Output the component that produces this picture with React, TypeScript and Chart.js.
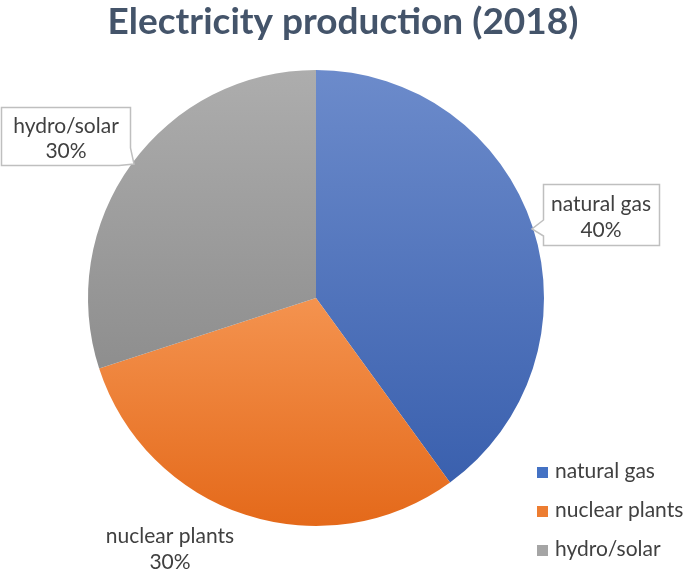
import React, { useEffect, useRef } from "react";
import { Chart, registerables } from "chart.js";

Chart.register(...registerables);

const TITLE = "Electricity production (2018)";
const categories = ["natural gas", "nuclear plants", "hydro/solar"];
const shares = [40, 30, 30];
const percentLabels = ["40%", "30%", "30%"];
const legendColors = ["#4472C4", "#ED7D31", "#A5A5A5"];
const gradientTop = ["#6C8BCB", "#F4934F", "#ADADAD"];
const gradientBottom = ["#3A60AE", "#E4691A", "#8E8E8E"];

const FONT = "Lato, 'Open Sans', sans-serif";
const TEXT = "#404040";

function sliceExtent(chart: any, index: number) {
  const ca = chart.chartArea;
  const cx = (ca.left + ca.right) / 2;
  const cy = (ca.top + ca.bottom) / 2;
  const r = Math.min(ca.right - ca.left, ca.bottom - ca.top) / 2;
  const total = shares.reduce((a, b) => a + b, 0);
  let start = -Math.PI / 2;
  for (let i = 0; i < index; i++) start += (shares[i] / total) * Math.PI * 2;
  const end = start + (shares[index] / total) * Math.PI * 2;
  let minY = cy;
  let maxY = cy;
  const steps = 90;
  for (let s = 0; s <= steps; s++) {
    const a = start + ((end - start) * s) / steps;
    const y = cy + r * Math.sin(a);
    minY = Math.min(minY, y);
    maxY = Math.max(maxY, y);
  }
  void cx;
  return { minY, maxY };
}

const overlayPlugin = {
  id: "overlay",
  afterDraw(chart: any) {
    const ctx = chart.ctx;
    ctx.save();
    // Title
    ctx.fillStyle = "#44546A";
    ctx.font = `bold 37px ${FONT}`;
    ctx.textAlign = "center";
    ctx.textBaseline = "alphabetic";
    ctx.fillText(TITLE, 343, 34);

    // Callouts
    const drawCallout = (pts: number[][]) => {
      ctx.beginPath();
      ctx.moveTo(pts[0][0], pts[0][1]);
      for (let i = 1; i < pts.length; i++) ctx.lineTo(pts[i][0], pts[i][1]);
      ctx.closePath();
      ctx.fillStyle = "#FFFFFF";
      ctx.fill();
      ctx.strokeStyle = "#BFBFBF";
      ctx.lineWidth = 1.5;
      ctx.stroke();
    };
    // natural gas box (pointer on left edge)
    drawCallout([
      [543.5, 184.5],
      [659.5, 184.5],
      [659.5, 245.5],
      [543.5, 245.5],
      [543.5, 236],
      [532, 229],
      [543.5, 220],
    ]);
    // hydro/solar box (pointer at bottom-right corner)
    drawCallout([
      [1.5, 107.5],
      [130.5, 107.5],
      [130.5, 148],
      [134, 164],
      [119, 165.5],
      [1.5, 165.5],
    ]);

    ctx.fillStyle = TEXT;
    ctx.font = `21px ${FONT}`;
    ctx.textAlign = "center";
    ctx.fillText(categories[0], 601, 211);
    ctx.fillText(percentLabels[0], 601, 237);
    ctx.fillText(categories[2], 66, 133);
    ctx.fillText(percentLabels[2], 66, 158);
    ctx.fillText(categories[1], 170, 543);
    ctx.fillText(percentLabels[1], 170, 569);

    // Legend
    ctx.textAlign = "left";
    const baselines = [478, 517, 556];
    categories.forEach((c, i) => {
      ctx.fillStyle = legendColors[i];
      ctx.fillRect(537, baselines[i] - 11, 11, 11);
      ctx.fillStyle = TEXT;
      ctx.fillText(c, 555, baselines[i]);
    });
    ctx.restore();
  },
};

export default function App() {
  const ref = useRef<HTMLCanvasElement | null>(null);
  useEffect(() => {
    if (!ref.current) return;
    const chart = new Chart(ref.current, {
      type: "pie",
      data: {
        labels: categories,
        datasets: [
          {
            data: shares,
            borderWidth: 0,
            backgroundColor: (c: any) => {
              const chart = c.chart;
              const i = c.dataIndex ?? 0;
              if (!chart.chartArea) return legendColors[i];
              const { minY, maxY } = sliceExtent(chart, i);
              const g = chart.ctx.createLinearGradient(0, minY, 0, maxY);
              g.addColorStop(0, gradientTop[i]);
              g.addColorStop(1, gradientBottom[i]);
              return g;
            },
          },
        ],
      },
      options: {
        responsive: false,
        animation: false,
        layout: { padding: { left: 88, right: 141, top: 70, bottom: 53 } },
        plugins: {
          legend: { display: false },
          title: { display: false },
          tooltip: { enabled: false },
        },
      },
      plugins: [overlayPlugin],
    });
    return () => chart.destroy();
  }, []);
  return (
    <div style={{ position: "fixed", left: 0, top: 0, width: 685, height: 579, background: "#fff" }}>
      <canvas ref={ref} width={685} height={579} style={{ display: "block" }} />
    </div>
  );
}
